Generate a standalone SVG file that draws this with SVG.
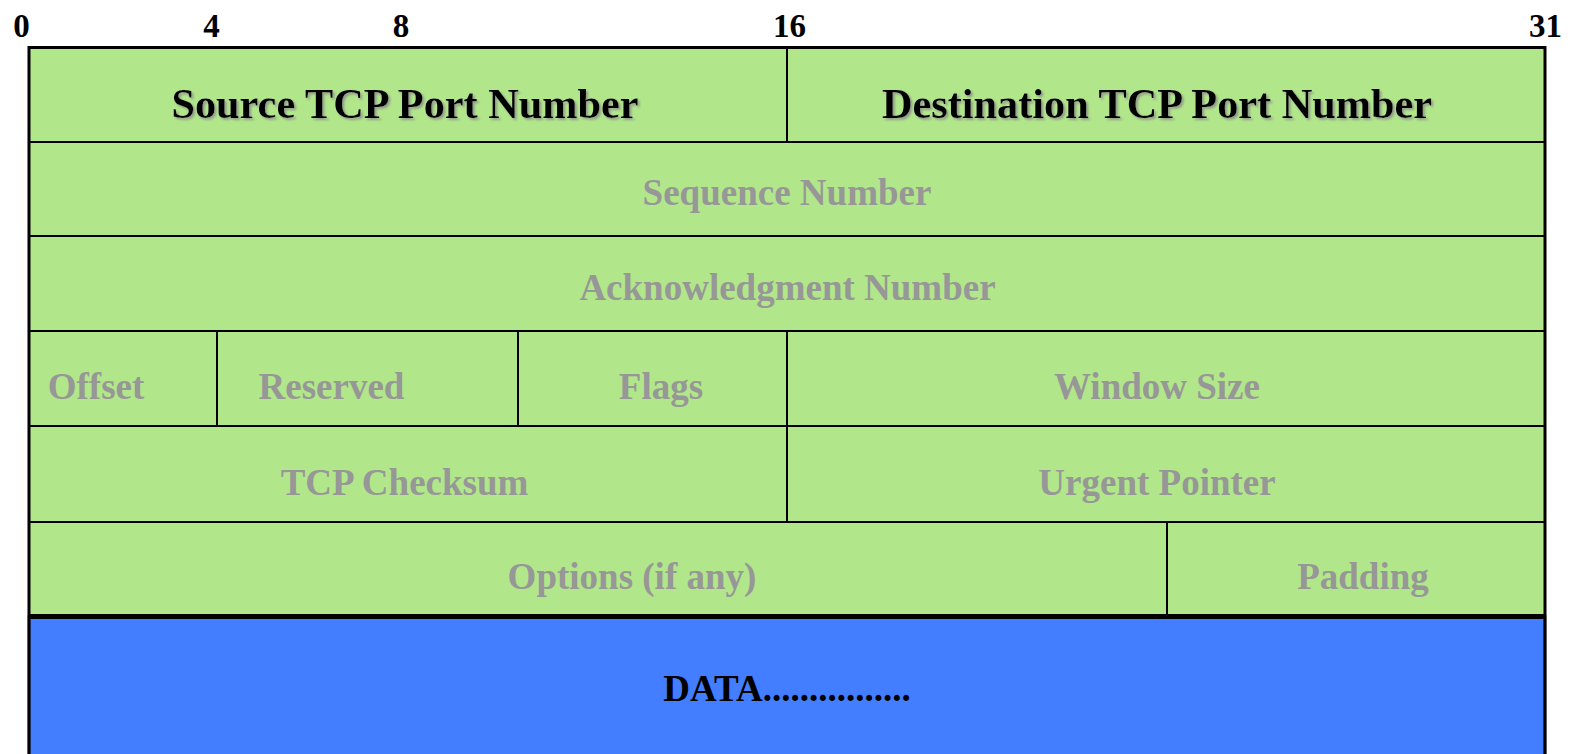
<svg xmlns="http://www.w3.org/2000/svg" width="1577" height="754" viewBox="0 0 1577 754">
<style>
  .cell { fill: #B1E68A; stroke: #000; stroke-width: 2; }
  .data { fill: #427EFF; stroke: #000; stroke-width: 2.5; }
  .head { font-family: "Liberation Serif", "Times New Roman", serif; font-weight: bold; font-size: 42.3px; fill: #000; text-anchor: middle; filter: url(#shadow); }
  .lbl { font-family: "Liberation Serif", "Times New Roman", serif; font-weight: bold; font-size: 37px; fill: #979797; text-anchor: middle; }
  .bit { font-family: "Liberation Serif", "Times New Roman", serif; font-weight: bold; font-size: 33px; fill: #000; text-anchor: middle; }
  .dtxt { font-family: "Liberation Serif", "Times New Roman", serif; font-weight: bold; font-size: 37px; fill: #000; text-anchor: middle; }
</style>
<defs>
  <filter id="shadow" x="-5%" y="-20%" width="110%" height="140%">
    <feDropShadow dx="2" dy="2" stdDeviation="1" flood-color="#8a8a8a" flood-opacity="0.8"/>
  </filter>
</defs>
<rect width="1577" height="754" fill="#fff"/>
<g id="bits">
  <text class="bit" x="21.5" y="37">0</text>
  <text class="bit" x="211.5" y="37">4</text>
  <text class="bit" x="401" y="37">8</text>
  <text class="bit" x="789.5" y="37">16</text>
  <text class="bit" x="1545.5" y="37">31</text>
</g>
<g id="data">
  <rect class="data" x="29" y="616" width="1516" height="160"/>
  <text class="dtxt" x="787" y="700.5">DATA................</text>
</g>
<g id="src"><rect class="cell" x="29" y="47" width="758" height="95"/><text class="head" x="405" y="118">Source TCP Port Number</text></g>
<g id="dst"><rect class="cell" x="787" y="47" width="758" height="95"/><text class="head" x="1157" y="118">Destination TCP Port Number</text></g>
<g id="seq"><rect class="cell" x="29" y="142" width="1516" height="94"/><text class="lbl" x="787" y="205">Sequence Number</text></g>
<g id="ack"><rect class="cell" x="29" y="236" width="1516" height="95"/><text class="lbl" x="787.5" y="299.5">Acknowledgment Number</text></g>
<g id="offset"><rect class="cell" x="29" y="331" width="188" height="95"/><text class="lbl" x="96" y="398.5">Offset</text></g>
<g id="reserved"><rect class="cell" x="217" y="331" width="301" height="95"/><text class="lbl" x="331.5" y="398.5">Reserved</text></g>
<g id="flags"><rect class="cell" x="518" y="331" width="269" height="95"/><text class="lbl" x="661" y="398.5">Flags</text></g>
<g id="window"><rect class="cell" x="787" y="331" width="758" height="95"/><text class="lbl" x="1157" y="398.5">Window Size</text></g>
<g id="checksum"><rect class="cell" x="29" y="426" width="758" height="96"/><text class="lbl" x="404.5" y="494.5">TCP Checksum</text></g>
<g id="urgent"><rect class="cell" x="787" y="426" width="758" height="96"/><text class="lbl" x="1157" y="494.5">Urgent Pointer</text></g>
<g id="options"><rect class="cell" x="29" y="522" width="1138" height="94"/><text class="lbl" x="632" y="588.5">Options (if any)</text></g>
<g id="padding"><rect class="cell" x="1167" y="522" width="378" height="94"/><text class="lbl" x="1363" y="588.5">Padding</text></g>
<g id="frame">
  <rect x="29" y="47.5" width="1516" height="760" fill="none" stroke="#000" stroke-width="3"/>
  <line x1="29" y1="616.5" x2="1545" y2="616.5" stroke="#000" stroke-width="5"/>
</g>
</svg>
